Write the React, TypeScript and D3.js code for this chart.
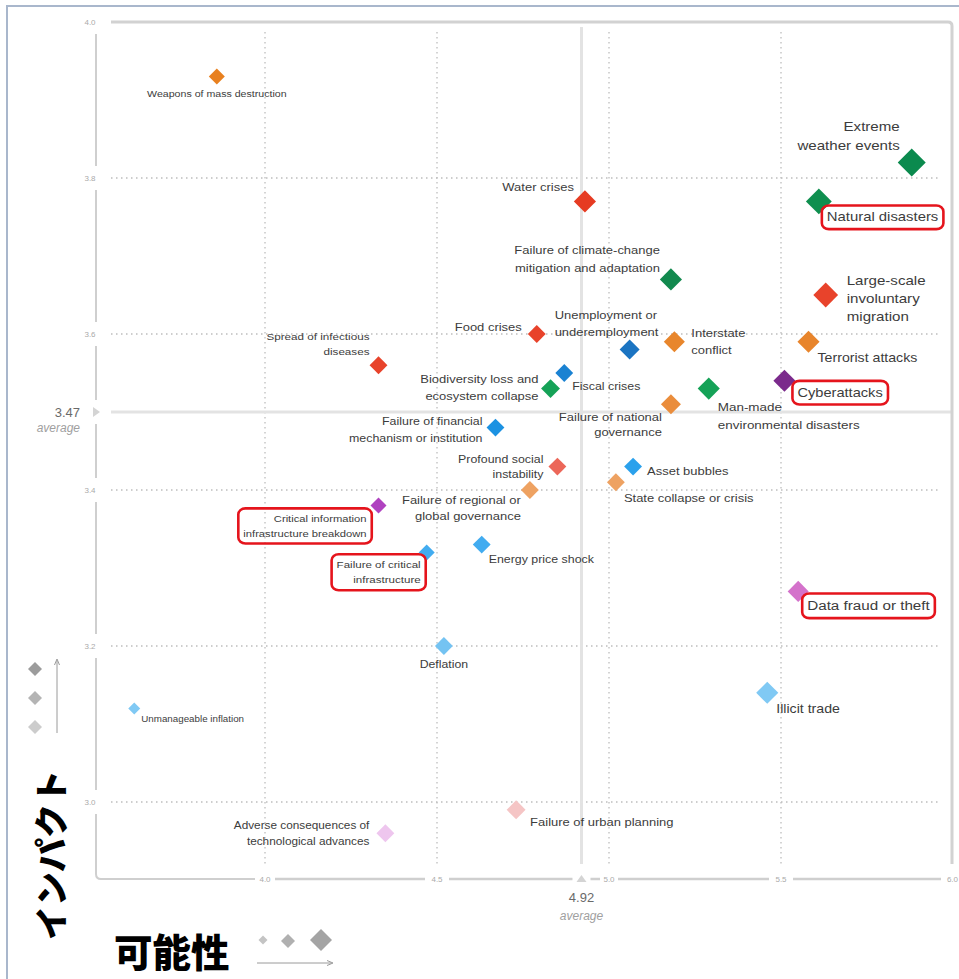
import React, { useEffect, useRef } from "react";
import * as d3 from "d3";

// ---------- DATA ----------
const risks: string[] = [
  "Weapons of mass destruction",
  "Extreme\nweather events",
  "Natural disasters",
  "Water crises",
  "Failure of climate-change\nmitigation and adaptation",
  "Large-scale\ninvoluntary\nmigration",
  "Terrorist attacks",
  "Interstate\nconflict",
  "Unemployment or\nunderemployment",
  "Food crises",
  "Spread of infectious\ndiseases",
  "Fiscal crises",
  "Biodiversity loss and\necosystem collapse",
  "Cyberattacks",
  "Man-made\nenvironmental disasters",
  "Failure of national\ngovernance",
  "Failure of financial\nmechanism or institution",
  "Profound social\ninstability",
  "Asset bubbles",
  "State collapse or crisis",
  "Failure of regional or\nglobal governance",
  "Critical information\ninfrastructure breakdown",
  "Failure of critical\ninfrastructure",
  "Energy price shock",
  "Data fraud or theft",
  "Deflation",
  "Illicit trade",
  "Unmanageable inflation",
  "Failure of urban planning",
  "Adverse consequences of\ntechnological advances",
];

const likelihood: number[] = [
  3.86, 5.88, 5.61, 4.93, 5.18, 5.63, 5.58, 5.19, 5.06, 4.79,
  4.33, 4.87, 4.83, 5.51, 5.29, 5.18, 4.67, 4.85, 5.07, 5.02,
  4.77, 4.33, 4.47, 4.63, 5.55, 4.52, 5.46, 3.62, 4.73, 4.35,
];

const impact: number[] = [
  3.93, 3.82, 3.77, 3.77, 3.67, 3.65, 3.59, 3.59, 3.58, 3.6,
  3.56, 3.55, 3.53, 3.54, 3.53, 3.51, 3.48, 3.43, 3.43, 3.41,
  3.4, 3.38, 3.32, 3.33, 3.27, 3.2, 3.14, 3.12, 2.99, 2.96,
];

// perceived trend -> marker size
const trend: number[] = [
  1.75, 4.0, 3.6, 2.9, 2.9, 3.4, 2.9, 2.7, 2.5, 2.1,
  2.1, 2.1, 2.3, 2.9, 2.9, 2.5, 2.1, 2.1, 2.1, 2.1,
  2.1, 1.75, 1.75, 2.1, 2.7, 2.1, 2.9, 1.0, 2.3, 2.1,
];

const pointColors: string[] = [
  "#e8801f", "#0b8a4e", "#0f8f4f", "#e63b22", "#12894e", "#e8432b", "#e8852c", "#e8862c", "#1b74c2", "#e8432b",
  "#e8432b", "#1a82d2", "#15a257", "#7b2a8c", "#15a257", "#ea8d3c", "#1c92e2", "#ec6759", "#2ba1ec", "#eea262",
  "#eea262", "#b042c0", "#42acf0", "#42acf0", "#d472cb", "#74c3f2", "#80c9f4", "#80c9f4", "#f5c5c5", "#eec6ee",
];

const highlighted: string[] = [
  "Natural disasters",
  "Cyberattacks",
  "Data fraud or theft",
  "Critical information\ninfrastructure breakdown",
  "Failure of critical\ninfrastructure",
];

const xTicks: number[] = [4.0, 4.5, 5.0, 5.5, 6.0];
const yTicks: number[] = [4.0, 3.8, 3.6, 3.4, 3.2, 3.0];
const avgLikelihood = 4.92;
const avgImpact = 3.47;
const avgImpactDrawnAt = 3.5; // where the reference places its average line

// label layout: [dx, dy, anchor, fontSize, lineHeight]
const labelLayout: [number, number, string, number, number][] = [
  [0, 20, "middle", 9, 12],
  [-12, -31, "end", 12.8, 19],
  [8, 20, "start", 12.6, 15],
  [-11, -10, "end", 11, 15],
  [-11, -25, "end", 11, 18],
  [21, -10, "start", 12.8, 18],
  [9, 20, "start", 12, 15],
  [17, -5, "start", 11, 17],
  [-75, -31, "start", 11, 17],
  [-15, -3, "end", 11, 15],
  [-9, -25, "end", 9.9, 15],
  [8, 17, "start", 10.5, 15],
  [-12, -6, "end", 11, 17],
  [13, 16, "start", 12.4, 15],
  [9, 22, "start", 11.4, 18],
  [-9, 17, "end", 11, 15],
  [-13, -3, "end", 10.5, 17],
  [-14, -4, "end", 10.5, 15],
  [14, 8, "start", 11, 15],
  [8, 20, "start", 11, 15],
  [-9, 14, "end", 11, 16],
  [-12, 16, "end", 9.5, 15],
  [-6, 16, "end", 9.8, 15],
  [7, 18, "start", 10.5, 15],
  [9, 19, "start", 12.9, 15],
  [0, 22, "middle", 10.4, 15],
  [9, 20, "start", 12, 15],
  [7, 14, "start", 8.3, 12],
  [14, 16, "start", 11, 15],
  [-16, -4, "end", 10, 16],
];

const LABEL_STRETCH = 1.18;
const FONT = "'Liberation Sans', Arial, Helvetica, sans-serif";

function diamond(cx: number, cy: number, h: number) {
  const p = d3.path();
  p.moveTo(cx, cy - h);
  p.lineTo(cx + h, cy);
  p.lineTo(cx, cy + h);
  p.lineTo(cx - h, cy);
  p.closePath();
  return p.toString();
}

export default function App() {
  const ref = useRef<SVGSVGElement | null>(null);

  useEffect(() => {
    const svg = d3.select(ref.current);
    svg.selectAll("*").remove();

    const x = d3.scaleLinear().domain([4, 6]).range([265, 953]);
    const y = d3.scaleLinear().domain([3, 4]).range([802, 22]);
    const r = d3.scaleLinear().domain([1, 4]).range([6, 14]);

    const axisX = 96;
    const axisY = 879;
    const gridColor = "#bdbdbd";
    const lineColor = "#cfcfcf";

    // outer frame
    svg.append("path")
      .attr("d", "M7,979 V6 H959")
      .attr("fill", "none")
      .attr("stroke", "#a9b7cc")
      .attr("stroke-width", 2);

    // dotted grid
    const g = svg.append("g");
    yTicks.filter((t) => t < 4).forEach((t) => {
      g.append("line")
        .attr("x1", 111).attr("x2", 940)
        .attr("y1", y(t)).attr("y2", y(t))
        .attr("stroke", gridColor).attr("stroke-width", 1.3)
        .attr("stroke-dasharray", "1.5,3.5");
    });
    xTicks.filter((t) => t < 6).forEach((t) => {
      g.append("line")
        .attr("x1", x(t)).attr("x2", x(t))
        .attr("y1", 32).attr("y2", 864)
        .attr("stroke", gridColor).attr("stroke-width", 1.3)
        .attr("stroke-dasharray", "1.5,3.5");
    });

    // average lines
    g.append("line")
      .attr("x1", x(avgLikelihood)).attr("x2", x(avgLikelihood))
      .attr("y1", 27).attr("y2", 864)
      .attr("stroke", "#e3e3e3").attr("stroke-width", 3);
    g.append("line")
      .attr("x1", 111).attr("x2", 952)
      .attr("y1", y(avgImpactDrawnAt)).attr("y2", y(avgImpactDrawnAt))
      .attr("stroke", "#e3e3e3").attr("stroke-width", 3);

    // top and right frame lines of plot
    svg.append("path")
      .attr("d", `M111,${y(4)} H948 Q${x(6) - 1},${y(4)} ${x(6) - 1},${y(4) + 4} V864`)
      .attr("fill", "none").attr("stroke", "#d2d2d2").attr("stroke-width", 3);

    // y axis segments
    const yStops = [y(4), y(3.8), y(3.6), y(avgImpactDrawnAt), y(3.4), y(3.2), y(3.0)];
    for (let i = 0; i < yStops.length - 1; i++) {
      svg.append("line")
        .attr("x1", axisX).attr("x2", axisX)
        .attr("y1", yStops[i] + 12).attr("y2", yStops[i + 1] - 12)
        .attr("stroke", lineColor).attr("stroke-width", 2);
    }
    // bottom corner + x axis segments
    const xStops = [x(4), x(4.5), x(avgLikelihood), x(5), x(5.5), x(6)];
    const gaps = [10, 12, 9, 9, 12, 12];
    svg.append("path")
      .attr("d", `M${axisX},${y(3) + 12} V${axisY - 5} Q${axisX},${axisY} ${axisX + 5},${axisY} H${xStops[0] - gaps[0]}`)
      .attr("fill", "none").attr("stroke", lineColor).attr("stroke-width", 2);
    for (let i = 0; i < xStops.length - 1; i++) {
      svg.append("line")
        .attr("x1", xStops[i] + gaps[i]).attr("x2", xStops[i + 1] - gaps[i + 1])
        .attr("y1", axisY).attr("y2", axisY)
        .attr("stroke", lineColor).attr("stroke-width", 2.5);
    }

    // tick labels
    yTicks.forEach((t) => {
      svg.append("text")
        .attr("x", 90).attr("y", y(t)).attr("dy", "0.35em")
        .attr("text-anchor", "middle")
        .attr("font-family", FONT).attr("font-size", 8)
        .attr("fill", "#aaa")
        .text(t.toFixed(1));
    });
    xTicks.forEach((t) => {
      const last = t === xTicks[xTicks.length - 1];
      svg.append("text")
        .attr("x", last ? 958 : x(t)).attr("y", axisY).attr("dy", "0.35em")
        .attr("text-anchor", last ? "end" : "middle")
        .attr("font-family", FONT).attr("font-size", 8)
        .attr("fill", "#aaa")
        .text(t.toFixed(1));
    });

    // average markers
    const ya = y(avgImpactDrawnAt);
    svg.append("path")
      .attr("d", `M${axisX - 3},${ya - 5} L${axisX + 4},${ya} L${axisX - 3},${ya + 5} Z`)
      .attr("fill", "#d4d4d4");
    svg.append("text")
      .attr("x", 80).attr("y", ya).attr("dy", "0.35em")
      .attr("text-anchor", "end").attr("font-family", FONT)
      .attr("font-size", 13).attr("fill", "#6a6a6a")
      .text(avgImpact.toFixed(2));
    svg.append("text")
      .attr("x", 80).attr("y", ya + 20)
      .attr("text-anchor", "end").attr("font-family", FONT)
      .attr("font-size", 12).attr("font-style", "italic").attr("fill", "#a0a0a0")
      .text("average");

    const xa = x(avgLikelihood);
    svg.append("path")
      .attr("d", `M${xa - 5},${axisY + 3} L${xa},${axisY - 4} L${xa + 5},${axisY + 3} Z`)
      .attr("fill", "#d4d4d4");
    svg.append("text")
      .attr("x", xa).attr("y", 902)
      .attr("text-anchor", "middle").attr("font-family", FONT)
      .attr("font-size", 13).attr("fill", "#6a6a6a")
      .text(avgLikelihood.toFixed(2));
    svg.append("text")
      .attr("x", xa).attr("y", 920)
      .attr("text-anchor", "middle").attr("font-family", FONT)
      .attr("font-size", 12).attr("font-style", "italic").attr("fill", "#a0a0a0")
      .text("average");

    // points
    const pts = svg.append("g");
    risks.forEach((name, i) => {
      pts.append("path")
        .attr("d", diamond(x(likelihood[i]), y(impact[i]), r(trend[i])))
        .attr("fill", pointColors[i]);
    });

    // labels
    const labels = svg.append("g");
    risks.forEach((name, i) => {
      const [dx, dy, anchor, fs, lh] = labelLayout[i];
      const cx = x(likelihood[i]);
      const cy = y(impact[i]);
      const lg = labels.append("g")
        .attr("transform", `translate(${cx + dx},${cy + dy}) scale(${LABEL_STRETCH},1)`);
      const t = lg.append("text")
        .attr("font-family", FONT).attr("font-size", fs)
        .attr("fill", "#3c3c3c")
        .attr("text-anchor", anchor);
      name.split("\n").forEach((line, k) => {
        t.append("tspan")
          .attr("x", 0)
          .attr("y", k * lh)
          .text(line);
      });
      if (highlighted.includes(name)) {
        const bb = (t.node() as SVGTextElement).getBBox();
        const px = 5 / LABEL_STRETCH;
        lg.append("rect")
          .attr("x", bb.x - px).attr("y", bb.y - 5)
          .attr("width", bb.width + 2 * px).attr("height", bb.height + 10)
          .attr("rx", 6)
          .attr("fill", "none")
          .attr("vector-effect", "non-scaling-stroke")
          .attr("stroke", "#e5141c").attr("stroke-width", 2.6);
      }
    });

    // size / trend legends
    const legL = [[35, 669, 7, "#9c9c9c"], [35, 698, 7, "#b4b4b4"], [35, 727, 7, "#cccccc"]] as [number, number, number, string][];
    legL.forEach(([cx, cy, h, c]) => {
      svg.append("path").attr("d", diamond(cx, cy, h)).attr("fill", c);
    });
    svg.append("line").attr("x1", 57).attr("x2", 57).attr("y1", 733).attr("y2", 661)
      .attr("stroke", "#9a9a9a").attr("stroke-width", 1);
    svg.append("path").attr("d", "M54.5,665 L57,659 L59.5,665").attr("fill", "none").attr("stroke", "#9a9a9a");

    const legB = [[263, 940, 4.5, "#c4c4c4"], [288, 941, 7, "#b0b0b0"], [321, 940, 11, "#a4a4a4"]] as [number, number, number, string][];
    legB.forEach(([cx, cy, h, c]) => {
      svg.append("path").attr("d", diamond(cx, cy, h)).attr("fill", c);
    });
    svg.append("line").attr("x1", 257).attr("x2", 331).attr("y1", 963).attr("y2", 963)
      .attr("stroke", "#9a9a9a").attr("stroke-width", 1);
    svg.append("path").attr("d", "M327,960.5 L333,963 L327,965.5").attr("fill", "none").attr("stroke", "#9a9a9a");

    // Japanese axis titles
    svg.append("text")
      .attr("transform", "translate(64,855) rotate(-90)")
      .attr("text-anchor", "middle")
      .attr("font-family", "'Noto Sans CJK JP', sans-serif")
      .attr("font-weight", 900).attr("font-size", 34).attr("fill", "#000")
      .text("インパクト");
    svg.append("text")
      .attr("x", 114).attr("y", 967)
      .attr("font-family", "'Noto Sans CJK JP', sans-serif")
      .attr("font-weight", 900).attr("font-size", 38.5).attr("fill", "#000")
      .text("可能性");
  }, []);

  return (
    <svg
      ref={ref}
      width={959}
      height={979}
      style={{ position: "absolute", left: 0, top: 0, background: "#fff" }}
    />
  );
}
